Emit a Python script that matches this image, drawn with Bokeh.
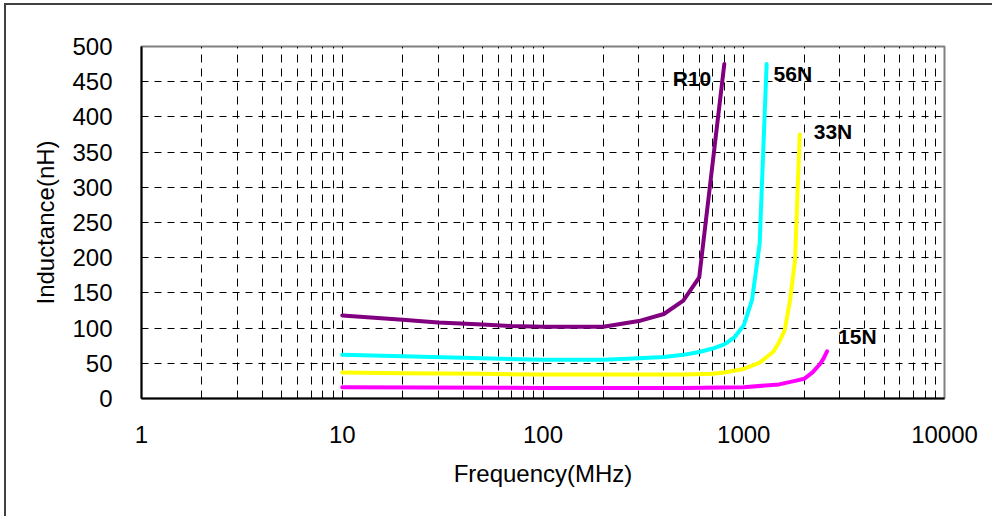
from bokeh.plotting import figure
from bokeh.models import FixedTicker, NumeralTickFormatter, Range1d
from bokeh.core.properties import value
from bokeh.embed import file_html
from bokeh.resources import INLINE

# ---- data ----
freq_r10 = [10, 20, 30, 50, 70, 100, 200, 300, 400, 500, 600, 800]
ind_r10 = [118, 112, 108, 105, 103, 102, 102, 110, 120, 139, 172, 475]

freq_56n = [10, 20, 50, 100, 200, 300, 400, 500, 600, 700, 800, 900, 1000, 1100, 1200, 1300]
ind_56n = [62, 60, 57, 55, 55, 57, 59, 62, 66, 71, 77, 87, 104, 140, 220, 475]

freq_33n = [10, 20, 50, 100, 200, 300, 500, 700, 800, 1000, 1200, 1400, 1500, 1600, 1700, 1800, 1900]
ind_33n = [37, 36, 35, 34, 34, 34, 34, 35, 37, 42, 51, 66, 80, 97, 139, 196, 375]

freq_15n = [10, 100, 500, 1000, 1500, 1800, 2000, 2200, 2400, 2500, 2600]
ind_15n = [16, 15, 15, 16, 20, 25, 28, 37, 49, 57, 67]

series_names = ["R10", "56N", "33N", "15N"]

x_ticks = [1, 10, 100, 1000, 10000]
x_tick_labels = ["1", "10", "100", "1000", "10000"]
y_ticks = [0, 50, 100, 150, 200, 250, 300, 350, 400, 450, 500]

x_minor = [m * d for d in (1, 10, 100, 1000) for m in range(2, 10)]

FONT = "Liberation Sans"

p = figure(width=988, height=513, x_axis_type="log",
           x_range=Range1d(1, 10000), y_range=Range1d(0, 500),
           output_backend="svg", toolbar_location=None,
           min_border_left=135, min_border_right=50,
           min_border_top=41, min_border_bottom=120)

p.background_fill_color = "white"
p.border_fill_color = "white"
p.outline_line_color = "#808080"
p.outline_line_width = 2
p.styles = {"margin-left": "4px", "margin-top": "3px",
            "border-left": "2px solid #404040", "border-top": "2px solid #404040"}

xt = FixedTicker(ticks=x_ticks, minor_ticks=x_minor)
yt = FixedTicker(ticks=y_ticks)
p.xaxis.ticker = xt
p.yaxis.ticker = yt
p.xgrid.ticker = xt
p.ygrid.ticker = yt
p.xaxis.formatter = NumeralTickFormatter(format="0")
p.xaxis.major_label_overrides = dict(zip(x_ticks, x_tick_labels))

for ax in (p.xaxis[0], p.yaxis[0]):
    ax.axis_line_color = "black"
    ax.axis_line_width = 2
    ax.major_tick_in = 0
    ax.major_tick_out = 0
    ax.minor_tick_in = 0
    ax.minor_tick_out = 0
    ax.major_label_text_font = FONT
    ax.major_label_text_font_size = "24px"
    ax.major_label_text_color = "black"
    ax.axis_label_text_font = FONT
    ax.axis_label_text_font_size = "24px"
    ax.axis_label_text_font_style = "normal"
    ax.axis_label_text_color = "black"

p.xaxis.axis_label = "Frequency(MHz)"
p.xaxis.major_label_standoff = 27
p.xaxis.axis_label_standoff = 14
p.yaxis.axis_label = "Inductance(nH)"
p.yaxis.major_label_standoff = 29
p.yaxis.axis_label_standoff = 10

p.xgrid.grid_line_color = "black"
p.xgrid.grid_line_dash = "8 6"
p.xgrid.minor_grid_line_color = "black"
p.xgrid.minor_grid_line_dash = "8 6"
p.ygrid.grid_line_color = "black"
p.ygrid.grid_line_dash = "7 6"

colors = ["#800080", "#00FFFF", "#FFFF00", "#FF00FF"]
all_f = [freq_r10, freq_56n, freq_33n, freq_15n]
all_l = [ind_r10, ind_56n, ind_33n, ind_15n]
for f, l, c in zip(all_f, all_l, colors):
    p.line(f, l, line_color=c, line_width=4, line_cap="round", line_join="round")

label_style = [("right", -13, 14), ("left", 7, 9), ("left", 14, -3), ("left", 11, -15)]
for name, f, l, (al, dx, dy) in zip(series_names, all_f, all_l, label_style):
    p.text(x=[f[-1]], y=[l[-1]], text=[name], text_align=al, text_baseline="middle",
           x_offset=dx, y_offset=dy, text_font=value(FONT), text_font_style="bold",
           text_font_size="21px", text_color="black")

open("out.html", "w").write(file_html(p, INLINE))
